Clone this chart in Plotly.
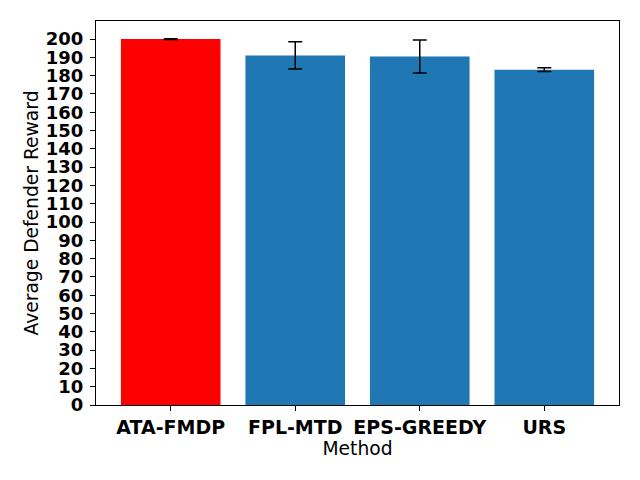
import plotly.graph_objects as go

methods = ["ATA-FMDP", "FPL-MTD", "EPS-GREEDY", "URS"]
rewards = [200.0, 191.1, 190.5, 183.3]
errors = [0.2, 7.4, 9.0, 1.0]
colors = ["red", "#1f77b4", "#1f77b4", "#1f77b4"]

fig = go.Figure(go.Bar(
    x=list(range(len(methods))),
    y=rewards,
    width=0.8,
    marker=dict(color=colors, line=dict(width=0)),
    error_y=dict(type="data", array=errors, visible=True,
                 color="black", thickness=1.5, width=7),
))

font = "DejaVu Sans"
fig.update_layout(
    width=640, height=480,
    margin=dict(l=96, r=21, t=21, b=75),
    paper_bgcolor="white", plot_bgcolor="white",
    showlegend=False,
    font=dict(family=font, size=19, color="black"),
)
fig.update_xaxes(
    range=[-0.6, 3.6], automargin=False,
    tickmode="array", tickvals=list(range(len(methods))), ticktext=methods,
    tickfont=dict(family=font, size=19, weight="bold"),
    ticks="outside", ticklen=5, tickcolor="black", tickwidth=1,
    showline=True, linecolor="black", linewidth=1, mirror=True,
    showgrid=False, zeroline=False,
    title=dict(text="Method", font=dict(family=font, size=18.7), standoff=4),
)
fig.update_yaxes(
    range=[0, 209.9], dtick=10, tick0=0, automargin=False,
    tickfont=dict(family=font, size=18, weight="bold"),
    ticks="outside", ticklen=5, tickcolor="black", tickwidth=1,
    ticklabelstandoff=3,
    showline=True, linecolor="black", linewidth=1, mirror=True,
    showgrid=False, zeroline=False,
    title=dict(text="Average Defender Reward", font=dict(family=font, size=18.7), standoff=2),
)

# the page has a default body margin; drop it so the figure sits at 0,0
fig.write_html("out.html", config={"displayModeBar": False},
               post_script="document.body.style.margin='0px';")
